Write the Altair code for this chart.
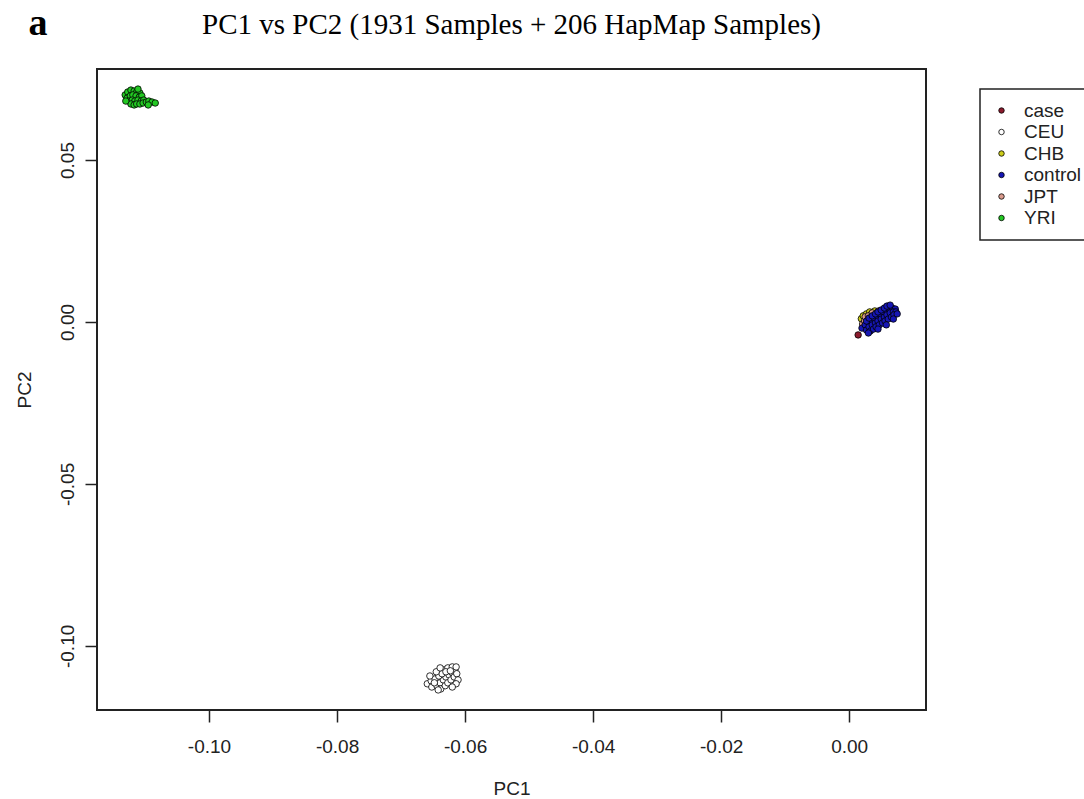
import altair as alt
import pandas as pd

# ---- data ----
yri_x = [-0.1131, -0.1127, -0.1122, -0.1117, -0.1113, -0.1108, -0.1128, -0.1123, -0.1119, -0.1114,
         -0.1109, -0.1105, -0.1125, -0.1120, -0.1116, -0.1111, -0.1106, -0.1102, -0.1122, -0.1117,
         -0.1113, -0.1108, -0.1103, -0.1098, -0.1094, -0.1089, -0.1095, -0.1084, -0.1130, -0.1111]
yri_y = [0.0701, 0.0710, 0.0716, 0.0713, 0.0710, 0.0707, 0.0691, 0.0698, 0.0701, 0.0698,
         0.0694, 0.0698, 0.0682, 0.0685, 0.0682, 0.0685, 0.0682, 0.0685, 0.0673, 0.0670,
         0.0673, 0.0673, 0.0676, 0.0679, 0.0682, 0.0679, 0.0670, 0.0676, 0.0682, 0.0719]

ceu_x = [-0.0659, -0.0653, -0.0647, -0.0652, -0.0644, -0.0639, -0.0634, -0.0630, -0.0625, -0.0620,
         -0.0616, -0.0638, -0.0631, -0.0627, -0.0622, -0.0617, -0.0613, -0.0633, -0.0627, -0.0620,
         -0.0614, -0.0641, -0.0636, -0.0630, -0.0623, -0.0642, -0.0648,
         -0.0645, -0.0639, -0.0611, -0.0614, -0.0620, -0.0655]
ceu_y = [-0.1117, -0.1108, -0.1102, -0.1127, -0.1123, -0.1114, -0.1105, -0.1096, -0.1090, -0.1083,
         -0.1074, -0.1133, -0.1123, -0.1114, -0.1105, -0.1096, -0.1086, -0.1074, -0.1068, -0.1065,
         -0.1065, -0.1093, -0.1086, -0.1080, -0.1077, -0.1136, -0.1114,
         -0.1080, -0.1068, -0.1105, -0.1117, -0.1127, -0.1093]

chb_x = [0.0019, 0.0022, 0.0027, 0.0032, 0.0029, 0.0035, 0.0040, 0.0043, 0.0050]
chb_y = [0.0010, 0.0019, 0.0025, 0.0031, 0.0006, 0.0025, 0.0034, 0.0016, 0.0028]

jpt_x = [0.0021, 0.0024, 0.0025, 0.0030, 0.0036, 0.0046, 0.0055]
jpt_y = [-0.0006, 0.0003, 0.0016, 0.0019, 0.0028, 0.0034, 0.0037]

case_x = [0.0014, 0.0027, 0.0036, 0.0048, 0.0059, 0.0042, 0.0066]
case_y = [-0.0040, -0.0012, 0.0000, 0.0012, 0.0028, -0.0006, 0.0034]

control_x = [0.0020, 0.0025, 0.0030, 0.0034, 0.0039, 0.0044, 0.0048, 0.0053, 0.0058, 0.0063,
             0.0067, 0.0072, 0.0027, 0.0031, 0.0036, 0.0041, 0.0045, 0.0050, 0.0055, 0.0059,
             0.0064, 0.0069, 0.0073, 0.0033, 0.0038, 0.0042, 0.0047, 0.0052, 0.0056, 0.0061,
             0.0066, 0.0070, 0.0075, 0.0027, 0.0031, 0.0036, 0.0041, 0.0045, 0.0050, 0.0055,
             0.0059, 0.0064, 0.0030, 0.0045, 0.0058, 0.0069]
control_y = [-0.0019, -0.0009, 0.0000, 0.0006, 0.0012, 0.0019, 0.0025, 0.0031, 0.0037, 0.0040,
             0.0043, 0.0040, -0.0025, -0.0015, -0.0009, -0.0003, 0.0003, 0.0009, 0.0015, 0.0022,
             0.0028, 0.0031, 0.0031, -0.0028, -0.0022, -0.0015, -0.0009, -0.0003, 0.0003, 0.0009,
             0.0015, 0.0022, 0.0025, 0.0003, 0.0012, 0.0019, 0.0025, 0.0031, 0.0037, 0.0043,
             0.0049, 0.0052, -0.0034, -0.0022, -0.0009, 0.0009]

groups = ["case", "CEU", "CHB", "control", "JPT", "YRI"]
colors = ["#8b1a2c", "#ffffff", "#cccc1a", "#1616b4", "#d99a8c", "#22c822"]

x_ticks = [-0.10, -0.08, -0.06, -0.04, -0.02, 0.00]
y_ticks = [-0.10, -0.05, 0.00, 0.05]
x_domain = [-0.1175, 0.0120]
y_domain = [-0.1198, 0.0781]

title_text = "PC1 vs PC2 (1931 Samples + 206 HapMap Samples)"
panel_tag = "a"

# drawing order: YRI, CEU, CHB, JPT, case, control
draw = [("YRI", yri_x, yri_y), ("CEU", ceu_x, ceu_y), ("CHB", chb_x, chb_y),
        ("JPT", jpt_x, jpt_y), ("case", case_x, case_y), ("control", control_x, control_y)]
rows = []
for g, xs, ys in draw:
    for a, b in zip(xs, ys):
        rows.append({"group": g, "PC1": a, "PC2": b})
df = pd.DataFrame(rows)
df["ord"] = range(len(df))

lab = "replace(format(datum.value, '.2f'), '\u2212', '-')"

points = alt.Chart(df).mark_point(
    filled=True, shape="circle", size=42, stroke="black", strokeWidth=0.8, opacity=1
).encode(
    x=alt.X("PC1:Q", scale=alt.Scale(domain=x_domain, nice=False, zero=False),
            axis=alt.Axis(values=x_ticks, labelExpr=lab, title="PC1", grid=False, domain=False,
                          tickSize=12, tickWidth=1.5, tickColor="#222",
                          labelFont="Liberation Sans", labelFontSize=19, labelColor="#222",
                          labelPadding=15, titleFont="Liberation Sans", titleFontSize=19,
                          titleFontWeight="normal", titleColor="#222", titlePadding=23)),
    y=alt.Y("PC2:Q", scale=alt.Scale(domain=y_domain, nice=False, zero=False),
            axis=alt.Axis(values=y_ticks, labelExpr=lab, title="PC2", grid=False, domain=False,
                          tickSize=12, tickWidth=1.5, tickColor="#222",
                          labelFont="Liberation Sans", labelFontSize=19, labelColor="#222",
                          labelAngle=270, labelAlign="center", labelBaseline="bottom",
                          labelPadding=8, titleFont="Liberation Sans", titleFontSize=19,
                          titleFontWeight="normal", titleColor="#222", titlePadding=24)),
    fill=alt.Fill("group:N", scale=alt.Scale(domain=groups, range=colors),
                  legend=alt.Legend(title=None, orient="none", legendX=883, legendY=20,
                                    strokeColor="#222", padding=12,
                                    symbolType="circle", symbolSize=30,
                                    symbolStrokeColor="black", symbolStrokeWidth=0.8,
                                    labelFont="Liberation Sans", labelFontSize=19,
                                    labelColor="#222", rowPadding=1.5, labelOffset=13)),
    order=alt.Order("ord:Q"),
)

tag = alt.Chart(pd.DataFrame({"t": [panel_tag]})).mark_text(
    font="Liberation Serif", fontSize=38, fontWeight="bold", align="center",
    baseline="alphabetic", color="black"
).encode(x=alt.value(-59), y=alt.value(-34), text="t:N")

head = alt.Chart(pd.DataFrame({"t": [title_text]})).mark_text(
    font="Liberation Serif", fontSize=29, fontWeight="normal", align="center",
    baseline="alphabetic", color="black"
).encode(x=alt.value(414.5), y=alt.value(-35), text="t:N")

chart = alt.layer(points, tag, head).properties(
    width=829, height=641,
    autosize=alt.AutoSizeParams(type="none"),
    padding={"left": 97, "top": 69, "right": 158, "bottom": 89},
    background="white",
).configure_view(stroke="#222", strokeWidth=2).configure_legend(strokeWidth=1.5)

chart.save("out.html", embed_options={"renderer": "svg", "actions": False})
